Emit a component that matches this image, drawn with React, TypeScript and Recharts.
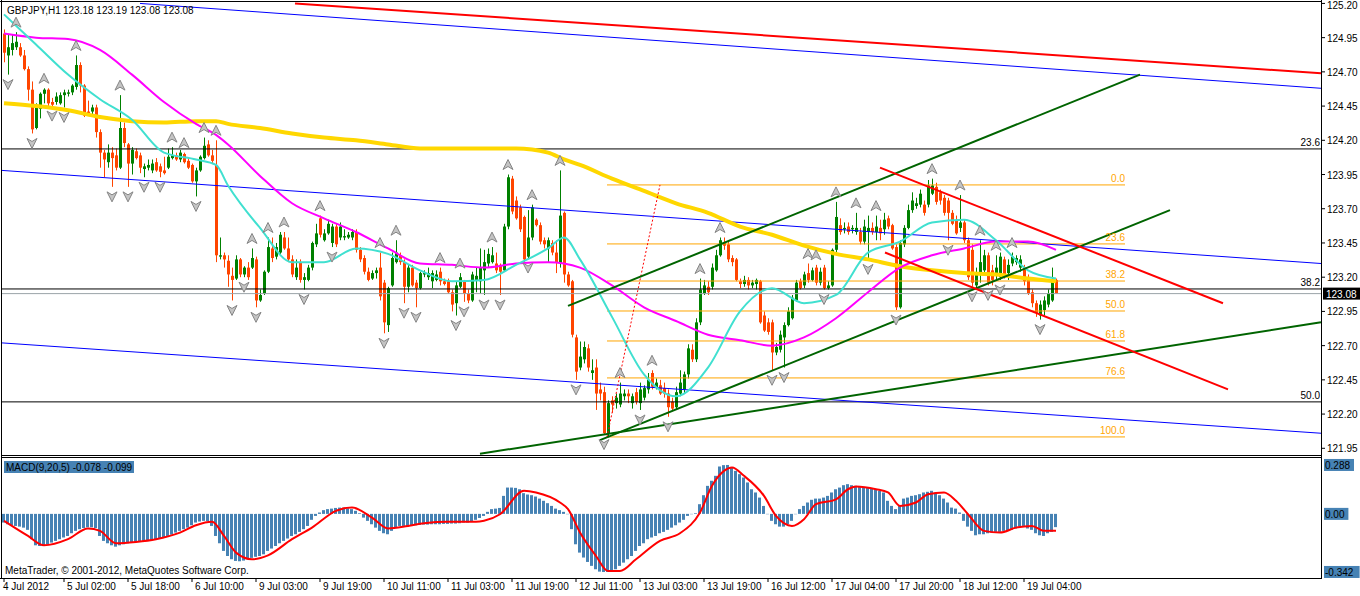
import React from 'react';
import {
  ComposedChart, Bar, Line, XAxis, YAxis, ReferenceLine, ReferenceDot,
} from 'recharts';

const FONT = '"Liberation Sans", Arial, sans-serif';

// GBPJPY H1 bars: [open, high, low, close]
const candles = [
  [124.98, 125.01, 124.77, 124.84], [124.82, 124.97, 124.68, 124.88], [124.86, 124.97, 124.82, 124.91], [124.88, 124.99, 124.86, 124.92], [124.88, 124.91, 124.81, 124.82],
  [124.82, 124.86, 124.71, 124.72], [124.72, 124.74, 124.49, 124.57], [124.57, 124.63, 124.25, 124.28], [124.29, 124.47, 124.28, 124.46], [124.43, 124.55, 124.36, 124.54],
  [124.54, 124.58, 124.47, 124.57], [124.57, 124.58, 124.45, 124.47], [124.48, 124.51, 124.45, 124.46], [124.48, 124.55, 124.46, 124.52], [124.47, 124.55, 124.46, 124.53],
  [124.53, 124.57, 124.44, 124.55], [124.54, 124.57, 124.52, 124.55], [124.55, 124.61, 124.53, 124.60], [124.59, 124.82, 124.57, 124.75], [124.75, 124.77, 124.55, 124.60],
  [124.60, 124.61, 124.37, 124.38], [124.41, 124.49, 124.38, 124.40], [124.41, 124.46, 124.39, 124.44], [124.44, 124.46, 124.22, 124.26], [124.26, 124.28, 124.00, 124.11],
  [124.11, 124.13, 123.93, 124.06], [124.04, 124.17, 124.00, 124.11], [124.11, 124.15, 123.86, 124.07], [124.09, 124.14, 123.98, 124.00], [124.00, 124.53, 123.99, 124.29],
  [124.29, 124.33, 124.15, 124.18], [124.17, 124.18, 123.86, 124.03], [124.03, 124.15, 123.95, 124.13], [124.12, 124.14, 124.06, 124.07], [124.09, 124.11, 123.96, 124.00],
  [123.99, 124.03, 123.93, 124.01], [124.00, 124.06, 123.98, 124.02], [123.98, 124.06, 123.96, 124.03], [124.04, 124.07, 123.97, 123.98], [124.01, 124.03, 123.93, 123.97],
  [123.98, 124.08, 123.95, 123.96], [124.00, 124.14, 123.99, 124.08], [124.07, 124.15, 124.06, 124.09], [124.09, 124.11, 124.05, 124.06], [124.06, 124.13, 124.04, 124.11],
  [124.10, 124.11, 124.03, 124.04], [124.05, 124.07, 123.99, 124.00], [124.02, 124.03, 123.89, 123.90], [123.90, 124.00, 123.79, 123.98], [123.98, 124.09, 123.97, 124.08],
  [124.07, 124.22, 124.06, 124.16], [124.17, 124.20, 124.08, 124.09], [124.09, 124.13, 124.03, 124.05], [124.02, 124.20, 123.31, 123.36], [123.35, 123.49, 123.33, 123.36],
  [123.36, 123.38, 123.27, 123.33], [123.32, 123.36, 123.13, 123.22], [123.21, 123.27, 123.03, 123.18], [123.19, 123.36, 123.18, 123.33], [123.33, 123.34, 123.20, 123.22],
  [123.22, 123.28, 123.20, 123.27], [123.27, 123.31, 123.18, 123.20], [123.27, 123.41, 123.26, 123.34], [123.33, 123.35, 122.98, 123.03], [123.03, 123.11, 123.02, 123.07],
  [123.08, 123.25, 123.07, 123.24], [123.24, 123.49, 123.23, 123.42], [123.41, 123.49, 123.31, 123.34], [123.35, 123.45, 123.33, 123.42], [123.38, 123.53, 123.37, 123.51],
  [123.49, 123.53, 123.40, 123.41], [123.41, 123.49, 123.31, 123.33], [123.33, 123.36, 123.20, 123.22], [123.20, 123.33, 123.18, 123.27], [123.31, 123.33, 123.16, 123.18],
  [123.18, 123.23, 123.11, 123.20], [123.18, 123.29, 123.17, 123.27], [123.27, 123.46, 123.25, 123.45], [123.44, 123.59, 123.42, 123.52], [123.63, 123.65, 123.49, 123.51],
  [123.47, 123.55, 123.46, 123.52], [123.52, 123.62, 123.51, 123.59], [123.45, 123.59, 123.42, 123.57], [123.57, 123.59, 123.42, 123.44], [123.49, 123.60, 123.47, 123.57],
  [123.49, 123.55, 123.47, 123.50], [123.49, 123.53, 123.48, 123.51], [123.49, 123.55, 123.47, 123.53], [123.53, 123.55, 123.38, 123.40], [123.40, 123.42, 123.31, 123.33],
  [123.34, 123.36, 123.22, 123.24], [123.24, 123.27, 123.17, 123.18], [123.19, 123.25, 123.18, 123.23], [123.23, 123.27, 123.19, 123.25], [123.27, 123.38, 123.03, 123.06],
  [123.16, 123.18, 122.79, 122.87], [122.85, 123.13, 122.80, 123.12], [123.14, 123.38, 123.13, 123.34], [123.31, 123.47, 123.30, 123.38], [123.36, 123.38, 123.29, 123.31],
  [123.31, 123.33, 123.01, 123.13], [123.13, 123.29, 123.09, 123.27], [123.27, 123.29, 123.13, 123.14], [123.16, 123.18, 122.98, 123.12], [123.12, 123.24, 123.11, 123.23],
  [123.22, 123.25, 123.20, 123.23], [123.20, 123.27, 123.18, 123.23], [123.17, 123.25, 123.12, 123.23], [123.18, 123.25, 123.17, 123.22], [123.24, 123.27, 123.14, 123.17],
  [123.17, 123.19, 123.14, 123.15], [123.17, 123.19, 123.08, 123.09], [123.09, 123.11, 122.95, 123.00], [123.01, 123.17, 122.92, 123.14], [123.13, 123.23, 123.12, 123.20],
  [123.17, 123.18, 123.02, 123.08], [123.08, 123.11, 123.01, 123.03], [123.03, 123.24, 123.02, 123.22], [123.18, 123.27, 123.09, 123.21], [123.17, 123.41, 123.08, 123.27],
  [123.25, 123.40, 123.07, 123.31], [123.30, 123.41, 123.27, 123.37], [123.31, 123.42, 123.30, 123.36], [123.30, 123.38, 123.23, 123.25], [123.29, 123.30, 123.07, 123.24],
  [123.25, 123.59, 123.24, 123.57], [123.57, 123.95, 123.55, 123.93], [123.92, 123.94, 123.66, 123.68], [123.76, 123.79, 123.62, 123.63], [123.71, 123.73, 123.53, 123.55],
  [123.64, 123.65, 123.30, 123.33], [123.35, 123.69, 123.34, 123.49], [123.49, 123.73, 123.47, 123.71], [123.62, 123.63, 123.57, 123.58], [123.58, 123.60, 123.44, 123.46],
  [123.47, 123.49, 123.41, 123.44], [123.41, 123.49, 123.31, 123.47], [123.45, 123.47, 123.36, 123.38], [123.38, 123.47, 123.23, 123.31], [123.30, 123.98, 123.27, 123.65],
  [123.67, 123.68, 123.16, 123.22], [123.22, 123.24, 123.13, 123.14], [123.17, 123.18, 122.76, 122.78], [122.76, 122.78, 122.45, 122.51], [122.54, 122.73, 122.52, 122.62],
  [122.60, 122.73, 122.57, 122.69], [122.68, 122.71, 122.51, 122.54], [122.50, 122.60, 122.45, 122.52], [122.54, 122.60, 122.23, 122.35], [122.38, 122.43, 122.30, 122.35],
  [122.36, 122.40, 122.05, 122.06], [122.06, 122.30, 122.03, 122.28], [122.30, 122.33, 122.21, 122.27], [122.28, 122.35, 122.24, 122.32], [122.27, 122.43, 122.25, 122.35],
  [122.33, 122.38, 122.30, 122.35], [122.35, 122.38, 122.28, 122.33], [122.28, 122.35, 122.24, 122.33], [122.36, 122.39, 122.27, 122.29], [122.28, 122.43, 122.23, 122.38],
  [122.32, 122.41, 122.30, 122.39], [122.38, 122.50, 122.35, 122.45], [122.50, 122.52, 122.38, 122.40], [122.39, 122.46, 122.38, 122.43], [122.41, 122.45, 122.34, 122.35],
  [122.39, 122.43, 122.32, 122.35], [122.35, 122.38, 122.18, 122.25], [122.29, 122.32, 122.22, 122.24], [122.25, 122.40, 122.23, 122.36], [122.35, 122.52, 122.33, 122.43],
  [122.38, 122.51, 122.35, 122.49], [122.49, 122.71, 122.46, 122.68], [122.67, 122.71, 122.58, 122.60], [122.60, 122.90, 122.58, 122.87], [122.87, 123.19, 122.85, 123.11],
  [123.08, 123.18, 123.07, 123.14], [123.13, 123.17, 123.07, 123.09], [123.13, 123.30, 123.11, 123.27], [123.25, 123.40, 123.24, 123.36], [123.36, 123.49, 123.35, 123.47],
  [123.45, 123.49, 123.40, 123.43], [123.44, 123.47, 123.31, 123.33], [123.34, 123.36, 123.28, 123.31], [123.33, 123.34, 123.17, 123.18], [123.17, 123.19, 123.12, 123.15],
  [123.15, 123.21, 123.13, 123.18], [123.18, 123.20, 123.11, 123.14], [123.14, 123.18, 123.12, 123.16], [123.15, 123.19, 123.11, 123.18], [123.17, 123.18, 122.86, 122.87],
  [122.92, 122.95, 122.80, 122.81], [122.87, 122.90, 122.78, 122.80], [122.87, 122.89, 122.52, 122.65], [122.65, 122.72, 122.63, 122.69], [122.67, 122.81, 122.65, 122.78],
  [122.76, 122.87, 122.54, 122.85], [122.85, 122.98, 122.84, 122.95], [122.90, 123.07, 122.89, 123.05], [123.03, 123.18, 123.02, 123.16], [123.17, 123.19, 123.11, 123.12],
  [123.14, 123.24, 123.12, 123.22], [123.23, 123.30, 123.16, 123.18], [123.18, 123.27, 123.17, 123.25], [123.27, 123.29, 123.14, 123.16], [123.16, 123.27, 123.14, 123.24],
  [123.27, 123.29, 123.11, 123.12], [123.12, 123.17, 123.11, 123.14], [123.14, 123.41, 123.13, 123.40], [123.40, 123.75, 123.38, 123.64], [123.58, 123.63, 123.51, 123.53],
  [123.55, 123.60, 123.52, 123.56], [123.57, 123.60, 123.51, 123.53], [123.55, 123.58, 123.52, 123.56], [123.53, 123.67, 123.51, 123.56], [123.53, 123.56, 123.44, 123.46],
  [123.46, 123.62, 123.44, 123.57], [123.53, 123.65, 123.33, 123.56], [123.56, 123.60, 123.51, 123.53], [123.53, 123.65, 123.47, 123.57], [123.56, 123.62, 123.47, 123.52],
  [123.55, 123.67, 123.51, 123.62], [123.63, 123.65, 123.55, 123.57], [123.58, 123.59, 123.40, 123.41], [123.42, 123.44, 122.96, 122.98], [122.98, 123.47, 122.97, 123.45],
  [123.44, 123.58, 123.42, 123.56], [123.56, 123.73, 123.55, 123.69], [123.69, 123.82, 123.67, 123.76], [123.72, 123.78, 123.70, 123.74], [123.73, 123.84, 123.71, 123.81],
  [123.73, 123.76, 123.65, 123.67], [123.73, 123.91, 123.71, 123.87], [123.81, 123.92, 123.80, 123.87], [123.86, 123.89, 123.73, 123.75], [123.82, 123.84, 123.73, 123.76],
  [123.78, 123.80, 123.65, 123.67], [123.76, 123.78, 123.47, 123.67], [123.67, 123.69, 123.58, 123.59], [123.62, 123.65, 123.51, 123.52], [123.56, 123.80, 123.53, 123.60],
  [123.60, 123.62, 123.45, 123.47], [123.47, 123.49, 123.18, 123.20], [123.40, 123.44, 123.13, 123.16], [123.14, 123.27, 123.11, 123.23], [123.22, 123.47, 123.16, 123.31],
  [123.25, 123.40, 123.22, 123.36], [123.36, 123.38, 123.14, 123.16], [123.25, 123.29, 123.14, 123.18], [123.22, 123.36, 123.18, 123.27], [123.20, 123.38, 123.18, 123.35],
  [123.33, 123.35, 123.19, 123.22], [123.23, 123.33, 123.18, 123.29], [123.30, 123.38, 123.28, 123.35], [123.31, 123.36, 123.29, 123.34], [123.27, 123.36, 123.24, 123.33],
  [123.27, 123.29, 123.14, 123.17], [123.19, 123.22, 123.07, 123.08], [123.09, 123.11, 122.98, 123.01], [123.01, 123.03, 122.91, 122.94], [122.92, 123.03, 122.89, 123.00],
  [122.96, 123.06, 122.92, 123.03], [123.00, 123.11, 122.98, 123.08], [123.03, 123.27, 123.02, 123.17], [123.18, 123.19, 123.08, 123.08],
];

// moving averages, read at these bars
const maBars = [0, 8, 16, 24, 32, 40, 48, 53, 56, 64, 72, 80, 88, 96, 104, 112, 120, 128, 136, 140, 144, 152, 160, 168, 176, 184, 192, 200, 208, 216, 224, 232, 240, 248, 256, 263];
const fastMa = [125.12, 124.90, 124.68, 124.50, 124.35, 124.11, 124.06, 124.02, 123.87, 123.56, 123.31, 123.31, 123.41, 123.37, 123.25, 123.17, 123.18, 123.29, 123.41, 123.49, 123.33, 122.91, 122.49, 122.33, 122.54, 122.95, 123.12, 123.01, 123.07, 123.38, 123.46, 123.60, 123.62, 123.47, 123.25, 123.19];
const midMa = [124.98, 124.95, 124.94, 124.86, 124.68, 124.48, 124.32, 124.24, 124.17, 123.94, 123.74, 123.63, 123.53, 123.41, 123.30, 123.29, 123.27, 123.30, 123.31, 123.30, 123.27, 123.14, 122.98, 122.88, 122.78, 122.74, 122.70, 122.76, 122.90, 123.09, 123.27, 123.36, 123.41, 123.46, 123.46, 123.40];
const slowMa = [124.47, 124.45, 124.42, 124.37, 124.34, 124.33, 124.34, 124.34, 124.32, 124.29, 124.25, 124.22, 124.20, 124.17, 124.14, 124.14, 124.14, 124.14, 124.11, 124.06, 124.02, 123.92, 123.83, 123.74, 123.67, 123.57, 123.51, 123.43, 123.37, 123.33, 123.28, 123.25, 123.23, 123.22, 123.19, 123.17];

// MACD(9,20,5) histogram, one value per bar
const macdHist = [
  -0.051, -0.061, -0.067, -0.071, -0.075, -0.081, -0.094, -0.149, -0.185, -0.189,
  -0.185, -0.179, -0.169, -0.159, -0.149, -0.139, -0.130, -0.114, -0.100, -0.090,
  -0.083, -0.079, -0.079, -0.083, -0.130, -0.159, -0.173, -0.185, -0.193, -0.185,
  -0.179, -0.173, -0.169, -0.165, -0.161, -0.159, -0.155, -0.153, -0.149, -0.145,
  -0.139, -0.130, -0.122, -0.110, -0.100, -0.090, -0.081, -0.067, -0.051, -0.045,
  -0.041, -0.043, -0.071, -0.130, -0.173, -0.218, -0.248, -0.267, -0.277, -0.279,
  -0.275, -0.267, -0.259, -0.253, -0.248, -0.238, -0.218, -0.204, -0.189, -0.173,
  -0.159, -0.145, -0.130, -0.120, -0.106, -0.090, -0.071, -0.035, -0.012, 0.008,
  0.022, 0.028, 0.031, 0.035, 0.037, 0.037, 0.033, 0.028, 0.018, 0.004,
  -0.022, -0.041, -0.061, -0.081, -0.100, -0.114, -0.120, -0.100, -0.081, -0.071,
  -0.071, -0.075, -0.071, -0.067, -0.065, -0.063, -0.063, -0.061, -0.061, -0.061,
  -0.059, -0.059, -0.057, -0.057, -0.055, -0.051, -0.051, -0.047, -0.035, -0.024,
  -0.012, 0.012, 0.028, 0.031, 0.035, 0.106, 0.155, 0.155, 0.153, 0.145,
  0.122, 0.114, 0.110, 0.102, 0.090, 0.077, 0.063, 0.047, 0.031, 0.022,
  0.012, -0.002, -0.090, -0.179, -0.228, -0.257, -0.283, -0.306, -0.326, -0.340,
  -0.342, -0.342, -0.336, -0.326, -0.306, -0.287, -0.267, -0.248, -0.218, -0.189,
  -0.173, -0.149, -0.139, -0.130, -0.114, -0.106, -0.094, -0.081, -0.067, -0.051,
  -0.035, -0.012, -0.002, 0.004, 0.057, 0.110, 0.165, 0.195, 0.224, 0.279,
  0.287, 0.288, 0.273, 0.253, 0.234, 0.214, 0.185, 0.145, 0.126, 0.096,
  0.047, -0.002, -0.041, -0.061, -0.075, -0.075, -0.061, -0.041, -0.002, 0.028,
  0.047, 0.067, 0.083, 0.090, 0.090, 0.096, 0.106, 0.126, 0.145, 0.155,
  0.169, 0.175, 0.169, 0.165, 0.161, 0.155, 0.153, 0.149, 0.145, 0.136,
  0.126, 0.077, 0.047, 0.028, 0.047, 0.090, 0.096, 0.106, 0.110, 0.116,
  0.126, 0.130, 0.136, 0.126, 0.110, 0.090, 0.067, 0.037, 0.031, 0.008,
  -0.041, -0.075, -0.100, -0.126, -0.120, -0.120, -0.114, -0.110, -0.106, -0.106,
  -0.100, -0.100, -0.094, -0.086, -0.075, -0.071, -0.086, -0.094, -0.114, -0.126,
  -0.130, -0.114, -0.106, -0.078,
];
// MACD signal line, read at these bars
const signalBars = [0, 6, 10, 16, 21, 24, 28, 33, 38, 44, 48, 52, 55, 58, 62, 66, 72, 77, 83, 87, 92, 96, 101, 105, 111, 118, 120, 124, 130, 133, 139, 141, 144, 148, 151, 154, 158, 164, 169, 174, 177, 180, 182, 185, 190, 193, 197, 200, 203, 208, 211, 213, 218, 221, 224, 228, 231, 235, 238, 241, 245, 249, 253, 257, 260, 263];
const signalVals = [-0.041, -0.130, -0.185, -0.149, -0.086, -0.100, -0.173, -0.165, -0.149, -0.110, -0.067, -0.047, -0.130, -0.228, -0.267, -0.244, -0.149, -0.081, 0.018, 0.037, -0.022, -0.086, -0.071, -0.055, -0.047, -0.047, -0.041, -0.002, 0.136, 0.126, 0.067, 0.028, -0.110, -0.248, -0.336, -0.336, -0.267, -0.159, -0.114, 0.008, 0.165, 0.253, 0.273, 0.224, 0.106, -0.012, -0.071, -0.031, 0.057, 0.086, 0.145, 0.161, 0.145, 0.126, 0.047, 0.067, 0.116, 0.126, 0.077, -0.002, -0.100, -0.110, -0.081, -0.071, -0.100, -0.099];

// fractal arrows (bar index)
const upFractals = [3, 10, 18, 29, 42, 45, 50, 53, 62, 66, 70, 79, 94, 98, 109, 114, 122, 126, 132, 139, 154, 162, 174, 179, 201, 203, 208, 213, 218, 232, 239, 244, 248, 252];
const downFractals = [1, 7, 12, 15, 27, 31, 35, 39, 48, 57, 60, 63, 75, 82, 95, 100, 103, 113, 115, 120, 124, 131, 143, 150, 159, 166, 192, 195, 205, 216, 223, 236, 242, 246, 249, 259];

const priceTicks = [121.95, 122.2, 122.45, 122.7, 122.95, 123.2, 123.45, 123.7, 123.95, 124.2, 124.45, 124.7, 124.95, 125.2];
const macdTicks = [0.288, 0, -0.342];
const timeBars = [0, 15, 31, 47, 63, 79, 95, 111, 127, 143, 159, 175, 191, 207, 223, 239, 255];
const timeLabels = ['4 Jul 2012', '5 Jul 02:00', '5 Jul 18:00', '6 Jul 10:00', '9 Jul 03:00', '9 Jul 19:00', '10 Jul 11:00', '11 Jul 03:00', '11 Jul 19:00', '12 Jul 11:00', '13 Jul 03:00', '13 Jul 19:00', '16 Jul 12:00', '17 Jul 04:00', '17 Jul 20:00', '18 Jul 12:00', '19 Jul 04:00'];

// short fibonacci retracement (orange) and long one (black)
const fibLevels = [123.874, 123.443, 123.172, 122.953, 122.734, 122.464, 122.033];
const fibLabels = ['0.0', '23.6', '38.2', '50.0', '61.8', '76.6', '100.0'];
const fibFrom = 150.75;
const fibTo = 280.25;
const bigFibLevels = [124.137, 123.114, 122.289];
const bigFibLabels = ['23.6', '38.2', '50.0'];

// drawn trend lines: [bar, price] -> [bar, price]
const trendLines = [
  { a: [72.75, 125.2], b: [329.25, 124.69], color: '#ff0000', w: 2 },
  { a: [34, 125.2], b: [329.25, 124.58], color: '#0000ff', w: 1 },
  { a: [-0.5, 123.98], b: [329.25, 123.3], color: '#0000ff', w: 1 },
  { a: [-0.5, 122.72], b: [329.25, 122.06], color: '#0000ff', w: 1 },
  { a: [141, 122.99], b: [284, 124.68], color: '#006400', w: 2 },
  { a: [149, 122.01], b: [291.5, 123.69], color: '#006400', w: 2 },
  { a: [119, 121.91], b: [329.25, 122.87], color: '#006400', w: 2 },
  { a: [219, 124.0], b: [304.75, 123.01], color: '#ff0000', w: 2 },
  { a: [220.25, 123.38], b: [306, 122.38], color: '#ff0000', w: 2 },
];
const fibTrend = { a: [150.75, 122.033], b: [164, 123.874] };

const X_DOMAIN = [-0.5, 329.25];
const last = candles[candles.length - 1];
const lastPrice = last[3];

const rows = candles.map(([o, h, l, c], i) => {
  const m = maBars.indexOf(i);
  const s = signalBars.indexOf(i);
  return {
    i, o, h, l, c,
    hl: [l, h],
    fast: m >= 0 ? fastMa[m] : null,
    mid: m >= 0 ? midMa[m] : null,
    slow: m >= 0 ? slowMa[m] : null,
    fu: upFractals.includes(i) ? h : null,
    fd: downFractals.includes(i) ? l : null,
    hist: macdHist[i],
    sig: s >= 0 ? signalVals[s] : null,
  };
});

const Candle = (props: any) => {
  const { x, y, width, height, payload } = props;
  if (!payload || x == null || y == null) return <g />;
  const { o, h, l, c } = payload;
  const top = Math.min(y, y + height);
  const span = Math.abs(height);
  const k = h - l > 0 ? span / (h - l) : 0;
  const yo = top + (h - o) * k;
  const yc = top + (h - c) * k;
  const color = c >= o ? '#008000' : '#ff4500';
  const cx = Math.round(x + width / 2);
  const bTop = Math.min(yo, yc);
  const bH = Math.max(1, Math.abs(yo - yc));
  return (
    <g>
      <line x1={cx + 0.5} x2={cx + 0.5} y1={top} y2={top + span} stroke={color} strokeWidth={1} />
      <rect x={cx - 1} y={bTop} width={3} height={bH} fill={color} />
    </g>
  );
};

const Fractal = ({ cx, cy, value, up }: any) => {
  if (value == null || cx == null || cy == null || isNaN(cy)) return <g />;
  const y = up ? cy - 10 : cy + 10;
  const pts = up
    ? `${cx},${y - 5} ${cx + 5},${y + 5} ${cx},${y + 2} ${cx - 5},${y + 5}`
    : `${cx},${y + 5} ${cx + 5},${y - 5} ${cx},${y - 2} ${cx - 5},${y - 5}`;
  return <polygon points={pts} fill="#c4c4c4" stroke="#858585" strokeWidth={1} />;
};

const PriceTick = ({ x, y, payload }: any) => (
  <text x={x} y={Math.max(y, 5) + 4} fontSize={10} fontFamily={FONT} fill="#000">
    {payload.value.toFixed(2)}
  </text>
);

const TimeTick = ({ x, y, payload }: any) => {
  const k = timeBars.indexOf(payload.value);
  return (
    <text x={x + (k === 0 ? -1 : 3)} y={y + 8} fontSize={10} fontFamily={FONT} fill="#000">
      {timeLabels[k]}
    </text>
  );
};

const MacdTick = ({ x, y, payload }: any) => {
  const v = payload.value;
  const label = v === 0 ? '0.00' : v.toFixed(3);
  return (
    <g>
      <rect x={x - 1} y={y - 6} width={label.length * 5.6 + 2} height={12} fill="#4682b4" />
      <text x={x} y={y + 4} fontSize={10} fontFamily={FONT} fill="#000">{label}</text>
    </g>
  );
};

const TextAt = (txt: string, color: string, x: number) => (p: any) => (
  <text x={p.cx + x} y={p.cy - 3} textAnchor="end" fontSize={10} fontFamily={FONT} fill={color}>{txt}</text>
);

const PriceBox = (p: any) => (
  <g>
    <rect x={p.cx + 2} y={p.cy - 6} width={37} height={12} fill="#000" />
    <text x={p.cx + 5} y={p.cy + 4} fontSize={10} fontFamily={FONT} fill="#fff">{lastPrice.toFixed(2)}</text>
  </g>
);

export default function App() {
  return (
    <div style={{ position: 'absolute', left: 0, top: 0, width: 1360, height: 596, background: '#fff' }}>
      <div style={{ position: 'absolute', left: 0, top: 0 }}>
        <ComposedChart width={1360} height={457} data={rows} margin={{ top: 2, right: 0, bottom: 2, left: 2 }}>
          <XAxis dataKey="i" type="number" domain={X_DOMAIN} allowDataOverflow hide />
          <YAxis
            orientation="right" width={39} domain={[121.901, 125.2104]} allowDataOverflow
            ticks={priceTicks} interval={0} tick={<PriceTick />} tickSize={4} tickMargin={2}
            tickLine={{ stroke: '#000' }} axisLine={false}
          />
          {bigFibLevels.map((v) => (
            <ReferenceLine key={`bf${v}`} y={v} stroke="#000" strokeWidth={1} ifOverflow="visible" />
          ))}
          {fibLevels.map((v) => (
            <ReferenceLine key={`f${v}`} segment={[{ x: fibFrom, y: v }, { x: fibTo, y: v }]} stroke="#ffa500" strokeWidth={1} ifOverflow="visible" />
          ))}
          <ReferenceLine y={lastPrice} stroke="#9aa3a8" strokeWidth={1} ifOverflow="visible" />
          {trendLines.filter((t) => t.color === '#0000ff').map((t, k) => (
            <ReferenceLine key={`b${k}`} segment={[{ x: t.a[0], y: t.a[1] }, { x: t.b[0], y: t.b[1] }]} stroke={t.color} strokeWidth={t.w} ifOverflow="visible" />
          ))}
          <Bar dataKey="hl" barSize={3} shape={<Candle />} isAnimationActive={false} />
          <Line dataKey="slow" type="monotone" stroke="#ffd700" strokeWidth={4} dot={false} connectNulls isAnimationActive={false} />
          <Line dataKey="mid" type="monotone" stroke="#ff00ff" strokeWidth={2} dot={false} connectNulls isAnimationActive={false} />
          <Line dataKey="fast" type="monotone" stroke="#40e0d0" strokeWidth={2} dot={false} connectNulls isAnimationActive={false} />
          <Line dataKey="fu" stroke="none" activeDot={false} isAnimationActive={false}
            dot={(p: any) => <Fractal key={`u${p.index}`} cx={p.cx} cy={p.cy} value={p.value} up />} />
          <Line dataKey="fd" stroke="none" activeDot={false} isAnimationActive={false}
            dot={(p: any) => <Fractal key={`d${p.index}`} cx={p.cx} cy={p.cy} value={p.value} up={false} />} />
          <ReferenceLine segment={[{ x: fibTrend.a[0], y: fibTrend.a[1] }, { x: fibTrend.b[0], y: fibTrend.b[1] }]} stroke="#ff0000" strokeWidth={1} strokeDasharray="2 2" ifOverflow="visible" />
          {trendLines.filter((t) => t.color !== '#0000ff').map((t, k) => (
            <ReferenceLine key={`t${k}`} segment={[{ x: t.a[0], y: t.a[1] }, { x: t.b[0], y: t.b[1] }]} stroke={t.color} strokeWidth={t.w} ifOverflow="visible" />
          ))}
          {fibLevels.map((v, k) => (
            <ReferenceDot key={`fl${k}`} x={fibTo} y={v} r={0} ifOverflow="visible" shape={TextAt(fibLabels[k], '#ffa500', 0)} />
          ))}
          {bigFibLevels.map((v, k) => (
            <ReferenceDot key={`bl${k}`} x={X_DOMAIN[1]} y={v} r={0} ifOverflow="visible" shape={TextAt(bigFibLabels[k], '#000', -1)} />
          ))}
          <ReferenceDot x={X_DOMAIN[1]} y={lastPrice} r={0} ifOverflow="visible" shape={PriceBox} />
        </ComposedChart>
      </div>
      <div style={{ position: 'absolute', left: 0, top: 457 }}>
        <ComposedChart width={1360} height={139} data={rows} margin={{ top: 1, right: 0, bottom: 0, left: 2 }}>
          <XAxis
            dataKey="i" type="number" domain={X_DOMAIN} allowDataOverflow height={18}
            ticks={timeBars} interval={0} tick={<TimeTick />} tickSize={4} tickMargin={0}
            tickLine={{ stroke: '#000' }} axisLine={false}
          />
          <YAxis
            orientation="right" width={39} domain={[-0.3775, 0.329]} allowDataOverflow
            ticks={macdTicks} interval={0} tick={<MacdTick />} tickSize={2} tickMargin={2}
            tickLine={false} axisLine={false}
          />
          <Bar dataKey="hist" barSize={3} fill="#4682b4" isAnimationActive={false} />
          <Line dataKey="sig" type="monotone" stroke="#ff0000" strokeWidth={2} dot={false} connectNulls isAnimationActive={false} />
        </ComposedChart>
      </div>
      <svg width={1360} height={596} style={{ position: 'absolute', left: 0, top: 0, pointerEvents: 'none' }}>
        <line x1={1.5} x2={1.5} y1={0} y2={579} stroke="#000" />
        <line x1={0} x2={1322} y1={1.5} y2={1.5} stroke="#000" />
        <line x1={1321.5} x2={1321.5} y1={0} y2={579} stroke="#000" />
        <line x1={1} x2={1322} y1={455.5} y2={455.5} stroke="#000" />
        <line x1={1} x2={1322} y1={457.5} y2={457.5} stroke="#000" />
        <line x1={0} x2={1322} y1={578.5} y2={578.5} stroke="#000" />
        <text x={7} y={14} fontSize={10} fontFamily={FONT} fill="#000">GBPJPY,H1</text>
        <text x={63} y={14} fontSize={10} fontFamily={FONT} fill="#000">
          {`${last[0].toFixed(2)} ${last[1].toFixed(2)} ${last[2].toFixed(2)} ${last[3].toFixed(2)}`}
        </text>
        <rect x={4} y={461} width={130} height={12} fill="#4682b4" />
        <text x={6} y={471} fontSize={10} fontFamily={FONT} fill="#000">
          {`MACD(9,20,5) ${macdHist[macdHist.length - 1].toFixed(3)} ${signalVals[signalVals.length - 1].toFixed(3)}`}
        </text>
        <text x={5} y={574} fontSize={10} fontFamily={FONT} fill="#000">MetaTrader, © 2001-2012, MetaQuotes Software Corp.</text>
      </svg>
    </div>
  );
}
